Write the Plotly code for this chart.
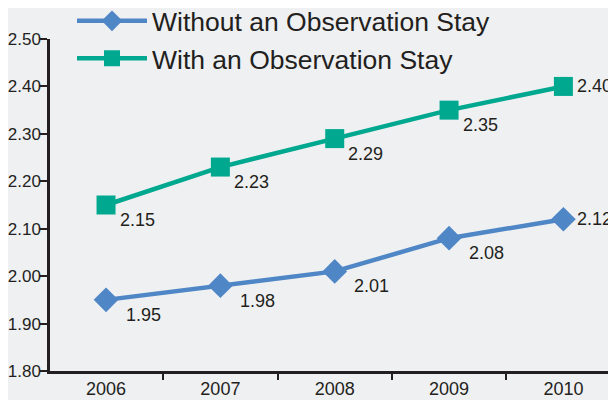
import plotly.graph_objects as go

years = ["2006", "2007", "2008", "2009", "2010"]
without_obs = [1.95, 1.98, 2.01, 2.08, 2.12]
with_obs = [2.15, 2.23, 2.29, 2.35, 2.40]
series_names = ["Without an Observation Stay", "With an Observation Stay"]
y_ticks = [1.80, 1.90, 2.00, 2.10, 2.20, 2.30, 2.40, 2.50]

FONT = "Liberation Sans, Arial, sans-serif"
BLUE = "#4F86C6"
GREEN = "#00A88F"
BG = "#EFF0F2"
INK = "#231F20"

def fmt(v):
    return f"{v:.2f}"

fig = go.Figure()
for name, vals, color, sym, grp, dx in [
    (series_names[0], without_obs, BLUE, "diamond", "a", 37),
    (series_names[1], with_obs, GREEN, "square", "b", 31),
]:
    fig.add_trace(go.Scatter(
        x=years, y=vals, name=name, legendgroup=grp,
        mode="lines+markers",
        line=dict(color=color, width=4.5),
        marker=dict(symbol=sym, size=19, color=color),
        cliponaxis=False,
    ))
    for i, v in enumerate(vals):
        last = i == len(vals) - 1
        fig.add_annotation(
            x=i, y=v, xref="x", yref="y", text=fmt(v), showarrow=False,
            xanchor="center", yanchor="middle",
            xshift=31 if last else dx, yshift=0 if last else -15,
            font=dict(family=FONT, size=18, color=INK),
        )

# page body has an 8px default margin, so the figure is 608x392 and offsets compensate
fig.update_layout(
    width=608, height=392,
    margin=dict(l=42, r=0, t=31, b=29, autoexpand=False),
    paper_bgcolor=BG, plot_bgcolor=BG,
    font=dict(family=FONT, color=INK),
    showlegend=True,
    legend=dict(
        xref="paper", yref="paper",
        x=22 / 566, y=1 + 42 / 333, xanchor="left", yanchor="top",
        bgcolor="rgba(0,0,0,0)",
        font=dict(family=FONT, size=26.5, color=INK),
        itemwidth=70, traceorder="grouped", tracegroupgap=0,
    ),
    xaxis=dict(
        type="category", range=[-0.49, 4.46],
        showline=True, linecolor=INK, linewidth=2.5,
        ticks="outside", tickson="boundaries", ticklen=6, tickwidth=2, tickcolor=INK,
        tickfont=dict(family=FONT, size=18, color=INK), tickangle=0,
        showgrid=False, zeroline=False,
    ),
    yaxis=dict(
        range=[1.80, 2.50], tickvals=y_ticks, ticktext=[fmt(v) for v in y_ticks],
        showline=True, linecolor=INK, linewidth=2.5,
        ticks="outside", ticklen=7, tickwidth=2, tickcolor=INK,
        tickfont=dict(family=FONT, size=17, color=INK), ticklabelstandoff=-4,
        showgrid=False, zeroline=False,
    ),
)

fig.write_html("out.html")
